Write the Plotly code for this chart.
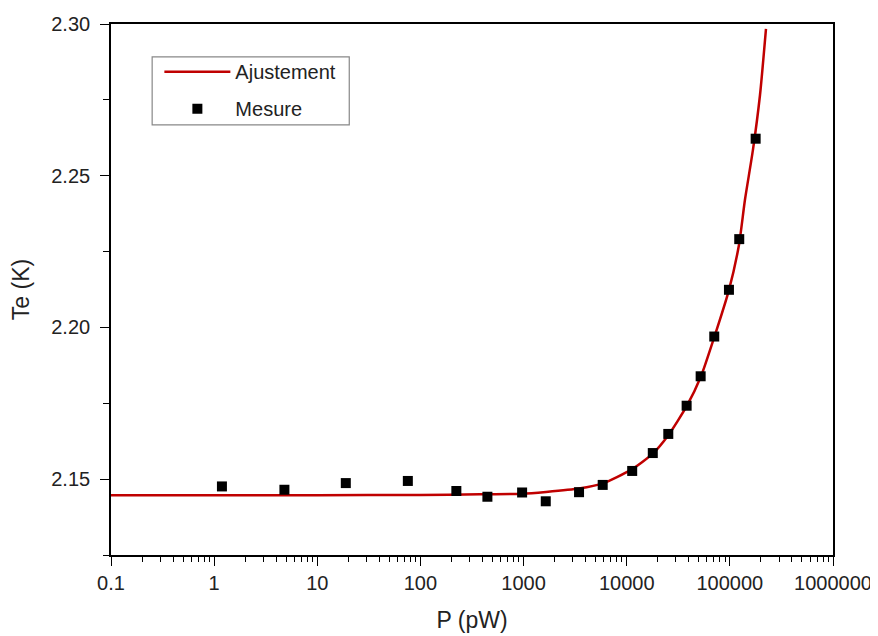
import plotly.graph_objects as go

# Measured points
mesure_p = [1.19, 4.8, 18.9, 75.5, 223, 446, 968, 1641, 3450, 5850, 11300,
            17900, 25300, 38100, 52100, 70600, 98000, 123300, 177800]
mesure_te = [2.1476, 2.1465, 2.1487, 2.1494, 2.1461, 2.1442, 2.1456, 2.1427, 2.1457, 2.1481, 2.1527,
             2.1586, 2.1649, 2.1742, 2.1839, 2.1970, 2.2124, 2.2291, 2.2622]

# Fit curve
fit_p = [0.1, 1, 10, 99, 379, 966, 1650, 3440, 5870, 11200, 17900, 25100, 38400,
         52400, 70000, 97900, 122400, 140000, 167400, 196000, 224000]
fit_te = [2.1447, 2.1447, 2.1447, 2.1448, 2.1450, 2.1452, 2.1458, 2.1469, 2.1486, 2.1532,
          2.1584, 2.1643, 2.1742, 2.1838, 2.1964, 2.2123, 2.2271, 2.2420, 2.2585, 2.2766, 2.2984]

x_tickvals = [0.1, 1, 10, 100, 1000, 10000, 100000, 1000000]
x_ticktext = ["0.1", "1", "10", "100", "1000", "10000", "100000", "1000000"]
y_tickvals = [2.15, 2.20, 2.25, 2.30]
y_ticktext = ["2.15", "2.20", "2.25", "2.30"]

x_minor = [m * 10 ** e for e in range(-1, 6) for m in range(2, 10)]

fig = go.Figure()
fig.add_trace(go.Scatter(x=fit_p, y=fit_te, mode="lines", name="Ajustement", legendgroup="a",
                         line=dict(color="#C00000", width=2.5, shape="spline", smoothing=0.6)))
fig.add_trace(go.Scatter(x=mesure_p, y=mesure_te, mode="markers", name="Mesure", legendgroup="b",
                         marker=dict(symbol="square", size=10, color="black")))

axis_font = dict(family="Liberation Sans, Arial, sans-serif", size=20, color="#222")

# legend frame (decoration around the native legend)
fig.add_shape(type="rect", xref="paper", yref="paper", x0=0.057, x1=0.330, y0=0.810, y1=0.938,
              line=dict(color="#888", width=1.2), fillcolor="white", layer="below")

fig.update_layout(
    width=870, height=628,
    margin=dict(l=103, r=45, t=16, b=81),
    paper_bgcolor="white", plot_bgcolor="white",
    font=dict(family="Liberation Sans, Arial, sans-serif", color="#222"),
    legend=dict(x=0.067, y=0.947, xanchor="left", yanchor="top",
                bgcolor="rgba(0,0,0,0)", borderwidth=0,
                font=dict(size=20, color="#222"), itemwidth=66,
                traceorder="grouped", tracegroupgap=8),
    xaxis=dict(type="log", range=[-1, 6], tickvals=x_tickvals, ticktext=x_ticktext,
               ticks="outside", ticklen=9, tickwidth=1.3, tickcolor="black",
               showline=True, linecolor="black", linewidth=1.6, mirror=True,
               showgrid=False, zeroline=False, tickfont=axis_font, automargin=False,
               minor=dict(tickvals=x_minor, ticks="outside", ticklen=5, tickwidth=1.1,
                          tickcolor="black", showgrid=False),
               title=dict(text="P (pW)", font=dict(size=23, color="#222"), standoff=19)),
    yaxis=dict(range=[2.125, 2.30], tickvals=y_tickvals, ticktext=y_ticktext,
               ticks="outside", ticklen=9, tickwidth=1.3, tickcolor="black",
               showline=True, linecolor="black", linewidth=1.6, mirror=True,
               showgrid=False, zeroline=False, tickfont=axis_font, automargin=False,
               ticklabelstandoff=6,
               minor=dict(dtick=0.025, tick0=2.125, ticks="outside", ticklen=6, tickwidth=1.1,
                          tickcolor="black", showgrid=False),
               title=dict(text="Te (K)", font=dict(size=23, color="#222"), standoff=17)),
)

fig.write_html("out.html")
